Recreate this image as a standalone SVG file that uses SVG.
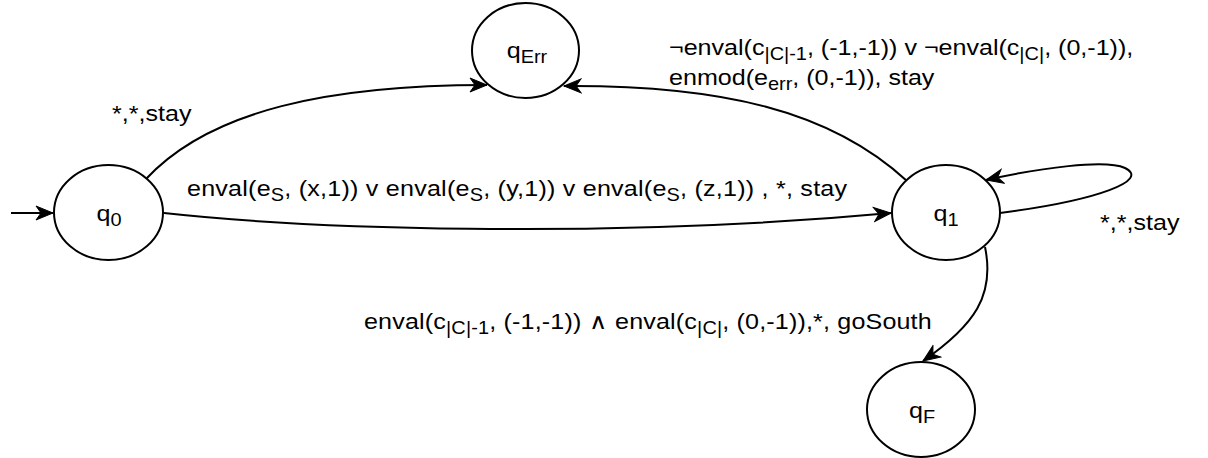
<svg xmlns="http://www.w3.org/2000/svg" width="1208" height="458" viewBox="0 0 1208 458">
  <style>
    .state { fill: #ffffff; stroke: #000000; stroke-width: 2; }
    .edge { fill: none; stroke: #000000; stroke-width: 2; }
    text { font-family: "Liberation Sans", Arial, Helvetica, sans-serif; font-size: 22px; fill: #000000; }
    .sub { font-size: 17.5px; }
  </style>
  <defs>
    <marker id="arrow" markerUnits="userSpaceOnUse" markerWidth="22" markerHeight="18" viewBox="-1 -9 22 18" refX="17" refY="0" orient="auto">
      <path d="M0,-7 L17,0 L0,7 L5,0 Z" fill="#000000" stroke="#000000" stroke-width="1" stroke-linejoin="miter"/>
    </marker>
  </defs>

  <!-- transitions (labels use a slightly widened type: scale 1.14 on x) -->
  <g id="connectors">
    <path class="edge" d="M11,213 L53,213" marker-end="url(#arrow)"/>
    <path class="edge" d="M146,179 C210,110 330,85 487,85" marker-end="url(#arrow)"/>
    <path class="edge" d="M164,213 C300,228 600,240 891,213" marker-end="url(#arrow)"/>
    <path class="edge" d="M907,181 C830,110 720,85 564,86" marker-end="url(#arrow)"/>
    <path class="edge" d="M1000,213 C1100,200 1150,180 1125,168 C1105,159 1040,168 986,180" marker-end="url(#arrow)"/>
    <path class="edge" d="M985,247 C995,295 975,325 923,361" marker-end="url(#arrow)"/>

    <text transform="matrix(1.14 0 0 1 112 121)">*,*,stay</text>
    <text transform="matrix(1.14 0 0 1 187 196)" textLength="579">enval(e<tspan class="sub" dy="5">S</tspan><tspan dy="-5">, (x,1)) v enval(e</tspan><tspan class="sub" dy="5">S</tspan><tspan dy="-5">, (y,1)) v enval(e</tspan><tspan class="sub" dy="5">S</tspan><tspan dy="-5">, (z,1)) , *, stay</tspan></text>
    <text transform="matrix(1.14 0 0 1 669 55)">¬enval(c<tspan class="sub" dy="5">|C|-1</tspan><tspan dy="-5">, (-1,-1)) v ¬enval(c</tspan><tspan class="sub" dy="5">|C|</tspan><tspan dy="-5">, (0,-1)),</tspan></text>
    <text transform="matrix(1.14 0 0 1 669 85)">enmod(e<tspan class="sub" dy="5">err</tspan><tspan dy="-5">, (0,-1)), stay</tspan></text>
    <text transform="matrix(1.14 0 0 1 1100 230)">*,*,stay</text>
    <text transform="matrix(1.14 0 0 1 364 329)" textLength="498">enval(c<tspan class="sub" dy="5">|C|-1</tspan><tspan dy="-5">, (-1,-1)) ∧ enval(c</tspan><tspan class="sub" dy="5">|C|</tspan><tspan dy="-5">, (0,-1)),*, goSouth</tspan></text>
  </g>

  <!-- states -->
  <g id="q0">
    <ellipse class="state" cx="108.5" cy="212.5" rx="54.5" ry="47.5"/>
    <text transform="matrix(1.14 0 0 1 109 221)" text-anchor="middle">q<tspan class="sub" dy="5">0</tspan></text>
  </g>
  <g id="qErr">
    <ellipse class="state" cx="525.5" cy="50.5" rx="53.5" ry="47.5"/>
    <text transform="matrix(1.14 0 0 1 527 58)" text-anchor="middle">q<tspan class="sub" dy="5">Err</tspan></text>
  </g>
  <g id="q1">
    <ellipse class="state" cx="946" cy="212.5" rx="54" ry="47.5"/>
    <text transform="matrix(1.14 0 0 1 946 221)" text-anchor="middle">q<tspan class="sub" dy="5">1</tspan></text>
  </g>
  <g id="qF">
    <ellipse class="state" cx="921" cy="409.5" rx="54" ry="47.5"/>
    <text transform="matrix(1.14 0 0 1 922 418)" text-anchor="middle">q<tspan class="sub" dy="5">F</tspan></text>
  </g>
</svg>
